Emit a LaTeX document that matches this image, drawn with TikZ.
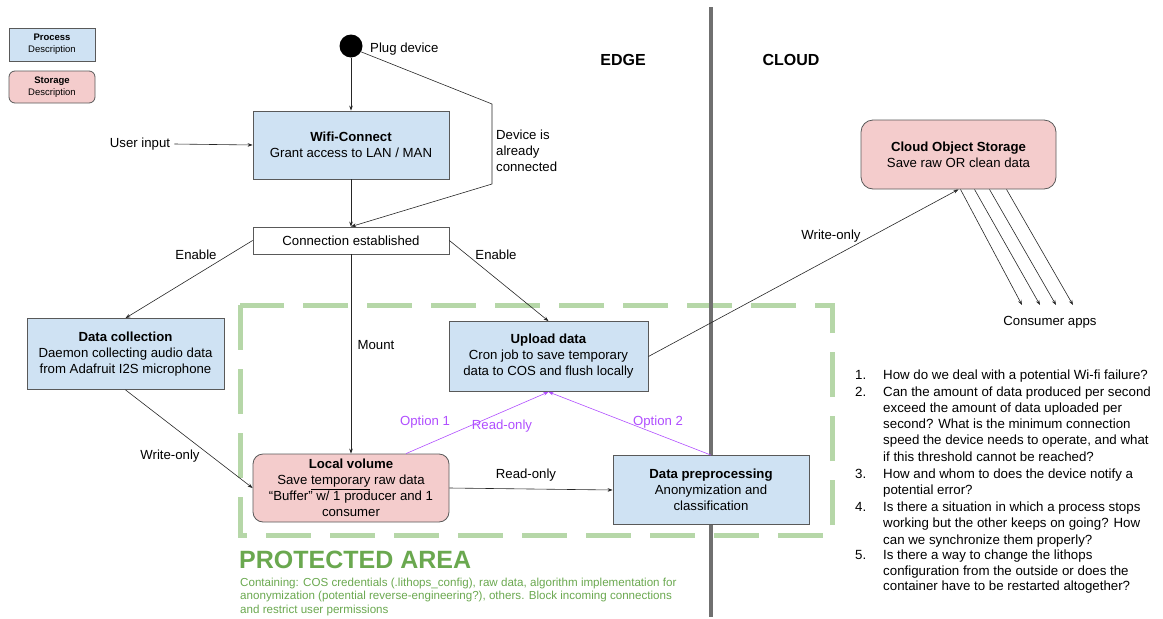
\documentclass[tikz,border=0pt]{standalone}
\usepackage{fontspec}
\setmainfont{Liberation Sans}
\usetikzlibrary{arrows.meta,calc}
\definecolor{procblue}{HTML}{CFE2F3}
\definecolor{storpink}{HTML}{F4CCCC}
\definecolor{bordergray}{HTML}{595959}
\definecolor{areagreen}{HTML}{B6D7A8}
\definecolor{textgreen}{HTML}{6AA84F}
\definecolor{optpurple}{HTML}{B04EFF}
\definecolor{sepgray}{HTML}{707070}
\begin{document}
\begin{tikzpicture}[x=1pt,y=-1pt,
  font=\fontsize{13.2}{16}\selectfont,
  box/.style={draw=bordergray, line width=0.8pt, align=center, inner sep=0pt},
  procbox/.style={box, fill=procblue},
  storbox/.style={box, fill=storpink, rounded corners=10pt},
  plainbox/.style={box, fill=white},
  arrowline/.style={draw=black!85, line width=0.6pt, -{Stealth[length=5pt,width=3.6pt]}},
  optline/.style={arrowline, draw=optpurple, {-Stealth[length=5pt,width=3.6pt]}},
  lbl/.style={inner sep=0pt},
  optlbl/.style={lbl, text=optpurple},
  greentxt/.style={lbl, text=textgreen, anchor=base west},
  qline/.style={lbl, anchor=base west, font=\fontsize{13.3}{16}\selectfont},
]
\useasboundingbox (0,0) rectangle (1163,619);

% protected area and separator
\draw[areagreen, line width=5pt, dash pattern=on 45pt off 19pt] (240,305) rectangle (832,535);
\draw[sepgray, line width=3.8pt] (711,7) -- (711,617);

% legend
\node[procbox, minimum width=86pt, minimum height=33pt, font=\fontsize{9.5}{12}\selectfont] (legproc) at (52,44.5) {\textbf{Process}\\Description};
\node[storbox, rounded corners=6pt, minimum width=86pt, minimum height=32pt, font=\fontsize{9.5}{12}\selectfont] (legstor) at (52,87) {\textbf{Storage}\\Description};

% region titles
\node[lbl, font=\fontsize{16}{19}\selectfont\bfseries] (edge) at (623,60) {EDGE};
\node[lbl, font=\fontsize{16}{19}\selectfont\bfseries] (cloudtitle) at (791,60) {CLOUD};

% start dot
\node[circle, fill=black, minimum size=23pt, inner sep=0pt] (dot) at (351,46) {};
\node[lbl, anchor=west] (plug) at (370,49) {Plug device};

% boxes
\node[procbox, minimum width=196pt, minimum height=68pt] (wifi) at (351,145) {\textbf{Wifi-Connect}\\Grant access to LAN / MAN};
\node[lbl] (user) at (140,144) {User input};
\node[plainbox, minimum width=196pt, minimum height=27pt] (established) at (351,240.5) {Connection established};
\node[procbox, minimum width=197pt, minimum height=71pt] (collect) at (125.5,354) {\textbf{Data collection}\\Daemon collecting audio data\\from Adafruit I2S microphone};
\node[procbox, minimum width=199pt, minimum height=70pt] (upload) at (548.5,356.5) {\textbf{Upload data}\\Cron job to save temporary\\data to COS and flush locally};
\node[storbox, minimum width=196pt, minimum height=68pt] (local) at (351,488) {\textbf{Local volume}\\Save \underline{temporary} raw data\\“Buffer” w/ 1 producer and 1\\consumer};
\node[procbox, minimum width=196pt, minimum height=69pt] (prep) at (711,490) {\textbf{Data preprocessing}\\Anonymization and\\classification};
\node[storbox, rounded corners=12pt, minimum width=195pt, minimum height=69pt] (cloud) at (958.5,154.5) {\textbf{Cloud Object Storage}\\Save raw OR clean data};
\node[lbl] (consumer) at (1050,322) {Consumer apps};

% connectors
\draw[arrowline] (dot.south) -- (wifi.north);
\coordinate (bendA) at (492,104);
\coordinate (bendB) at (492,184);
\draw[arrowline] (dot.-30) -- (bendA) -- (bendB) -- (established.north);
\node[lbl, anchor=west, align=left] (already) at (496,151) {Device is\\already\\connected};
\draw[arrowline] (user.east) ++(4,0) -- (wifi.west);
\draw[arrowline] (wifi.south) -- (established.north);
\draw[arrowline] (established.west) -- (collect.north);
\node[lbl] (enableL) at (196,255) {Enable};
\draw[arrowline] (established.east) -- (upload.north);
\node[lbl] (enableR) at (496,255) {Enable};
\draw[arrowline] (established.south) -- (local.north);
\node[lbl] (mount) at (376,345) {Mount};
\draw[arrowline] (collect.south) -- (local.west);
\node[lbl] (wrL) at (170,456) {Write-only};
\draw[arrowline] (local.east) -- (prep.west);
\node[lbl] (roB) at (526,475) {Read-only};
\draw[optline] ($(local.north)+(55,0)$) -- (upload.south);
\draw[optline] (prep.north) -- (upload.south);
\node[optlbl] (opt1) at (425,422) {Option 1};
\node[optlbl] (roP) at (502,426) {Read-only};
\node[optlbl] (opt2) at (658,422) {Option 2};
\draw[arrowline] (upload.east) -- (cloud.south);
\node[lbl] (wrC) at (831,236) {Write-only};
\coordinate (c1) at (1022,305);
\coordinate (c2) at (1040,305);
\coordinate (c3) at (1056,305);
\coordinate (c4) at (1073,305);
\draw[arrowline] ($(cloud.south)+(2,0)$) -- (c1);
\draw[arrowline] ($(cloud.south)+(16,0)$) -- (c2);
\draw[arrowline] ($(cloud.south)+(31,0)$) -- (c3);
\draw[arrowline] ($(cloud.south)+(48,0)$) -- (c4);

% protected area text
\node[greentxt, font=\fontsize{25}{28}\selectfont\bfseries] (ptitle) at (239,568) {PROTECTED AREA};
\node[greentxt, font=\fontsize{11.6}{13.5}\selectfont] (pt1) at (240,586) {Containing: COS credentials (.lithops\_config), raw data, algorithm implementation for};
\node[greentxt, font=\fontsize{11.6}{13.5}\selectfont] (pt2) at (240,599.5) {anonymization (potential reverse-engineering?), others. Block incoming connections};
\node[greentxt, font=\fontsize{11.6}{13.5}\selectfont] (pt3) at (240,613) {and restrict user permissions};

% question list
\foreach \n/\yy in {1/379.5, 2/396.5, 3/478.5, 4/511.5, 5/559.5}
  \node[qline, name=n\n] at (855,\yy) {\n.};
\foreach \i/\yy/\t in {
  1/379.5/{How do we deal with a potential Wi-fi failure?},
  2/396.5/{Can the amount of data produced per second},
  3/412.5/{exceed the amount of data uploaded per},
  4/428.5/{second? What is the minimum connection},
  5/444.5/{speed the device needs to operate, and what},
  6/461.5/{if this threshold cannot be reached?},
  7/478.5/{How and whom to does the device notify a},
  8/494.5/{potential error?},
  9/511.5/{Is there a situation in which a process stops},
  10/527.5/{working but the other keeps on going? How},
  11/544.5/{can we synchronize them properly?},
  12/559.5/{Is there a way to change the lithops},
  13/575.5/{configuration from the outside or does the},
  14/590.5/{container have to be restarted altogether?}}
  \node[qline, name=q\i] at (883,\yy) {\t};
\end{tikzpicture}
\end{document}
